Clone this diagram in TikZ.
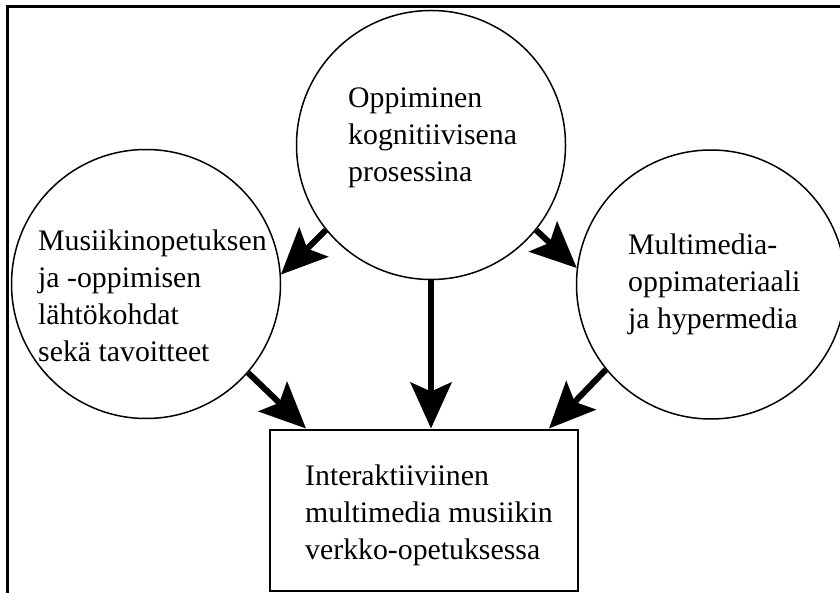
\documentclass[tikz,border=0pt]{standalone}
\usepackage{fontspec}
\setmainfont{Liberation Serif}
\usetikzlibrary{arrows.meta}

\tikzset{
  bubble/.style={circle, draw, line width=1.5pt, minimum size=269pt, inner sep=0pt},
  goalbox/.style={rectangle, draw, line width=2pt, inner sep=0pt},
  label text/.style={align=left, inner sep=0pt, anchor=north west,
    font=\fontsize{29.8}{37}\selectfont},
  flow/.style={line width=6pt, -{Stealth[length=46pt, width=41pt, inset=9pt]}},
  frameline/.style={line width=3pt}
}

\begin{document}
\begin{tikzpicture}[x=1pt, y=-1pt]
  \useasboundingbox (0,0) rectangle (840,593);

  % outer frame (top and left edges)
  \coordinate (fTL) at (7.5,6.5);
  \coordinate (fTR) at (842,6.5);
  \coordinate (fBL) at (7.5,595);
  \draw[frameline] (fTR) -- (fTL) -- (fBL);

  % the three sources and the common target
  \node[bubble] (top)   at (431,145) {};
  \node[bubble] (left)  at (146,284) {};
  \node[bubble] (right) at (711,284.5) {};
  \node[goalbox, minimum width=308pt, minimum height=161pt] (box) at (424,510) {};

  % texts
  \node[label text] (ttop) at (348,88)
    {Oppiminen\\kognitiivisena\\prosessina};
  \node[label text] (tleft) at (38,230)
    {Musiikinopetuksen\\ja -oppimisen\\lähtökohdat\\sekä tavoitteet};
  \node[label text] (tright) at (628,234)
    {Multimedia-\\oppimateriaali\\ja hypermedia};
  \node[label text] (tbox) at (305,465)
    {Interaktiiviinen\\multimedia musiikin\\verkko-opetuksessa};

  % connectors
  \draw[flow] (top.219) -- (left.4);
  \draw[flow] (top.321) -- (right.173);
  \draw[flow] (top.south) -- (top.south |- box.north);
  \draw[flow] (left.319) -- ([xshift=37pt]box.north west);
  \draw[flow] (right.219) -- ([xshift=-30pt]box.north east);
\end{tikzpicture}
\end{document}
